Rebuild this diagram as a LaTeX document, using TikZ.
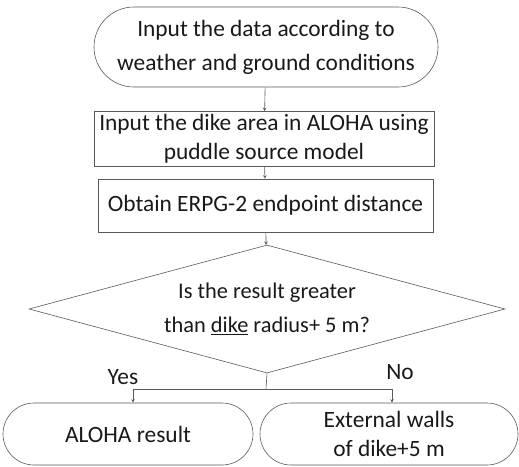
\documentclass[tikz,border=0pt]{standalone}
\usepackage{fontspec}
\setmainfont{Carlito}
\usetikzlibrary{arrows,shapes.geometric}

\tikzset{
  base/.style={draw=black!65,text=black!90,align=center,inner sep=0pt,
    font=\fontsize{23.4}{29}\selectfont},
  terminal/.style={base,rectangle,rounded corners=31pt},
  process/.style={base,rectangle},
  decision/.style={base,diamond,aspect=3.7,font=\fontsize{22.4}{34}\selectfont},
  lbl/.style={text=black!90,inner sep=0pt,font=\fontsize{23.4}{28}\selectfont}
}

\begin{document}
\begin{tikzpicture}[x=1pt,y=-1pt,->,>=stealth,line width=0.6pt,draw=black!65]
\useasboundingbox (0,0) rectangle (519,466);
\node[terminal,rounded corners=40pt,minimum width=344pt,minimum height=80pt,
  font=\fontsize{23.4}{34}\selectfont] (start) at (266,47) {Input the data according to\\weather and ground conditions};
\node[process,minimum width=340pt,minimum height=55pt] (area) at (264,139) {Input the dike area in ALOHA using\\puddle source model};
\node[process,minimum width=335pt,minimum height=53pt] (erpg) at (265.5,205.5) {Obtain ERPG-2 endpoint distance};
\node[decision,minimum width=476pt,minimum height=128pt] (check) at (267,309) {Is the result greater\\than \underline{dike} radius+ 5 m?};
\node[terminal,minimum width=250pt,minimum height=62pt] (aloha) at (128,434) {ALOHA result};
\node[terminal,minimum width=258pt,minimum height=62pt] (walls) at (389,434) {External walls\\of dike+5 m};
\coordinate (split) at (266,389);
\coordinate (yesturn) at (133,389);
\coordinate (noturn) at (392,389);
\path (start) edge (area)
(area) edge (erpg)
(erpg) edge (check);
\draw[-] (check.south) -- (split);
\draw (split) -- (yesturn) -- (aloha.north -| yesturn);
\draw (split) -- (noturn) -- (walls.north -| noturn);
\node[lbl] (yes) at (123,377) {Yes};
\node[lbl] (no) at (400,372) {No};
\end{tikzpicture}
\end{document}
